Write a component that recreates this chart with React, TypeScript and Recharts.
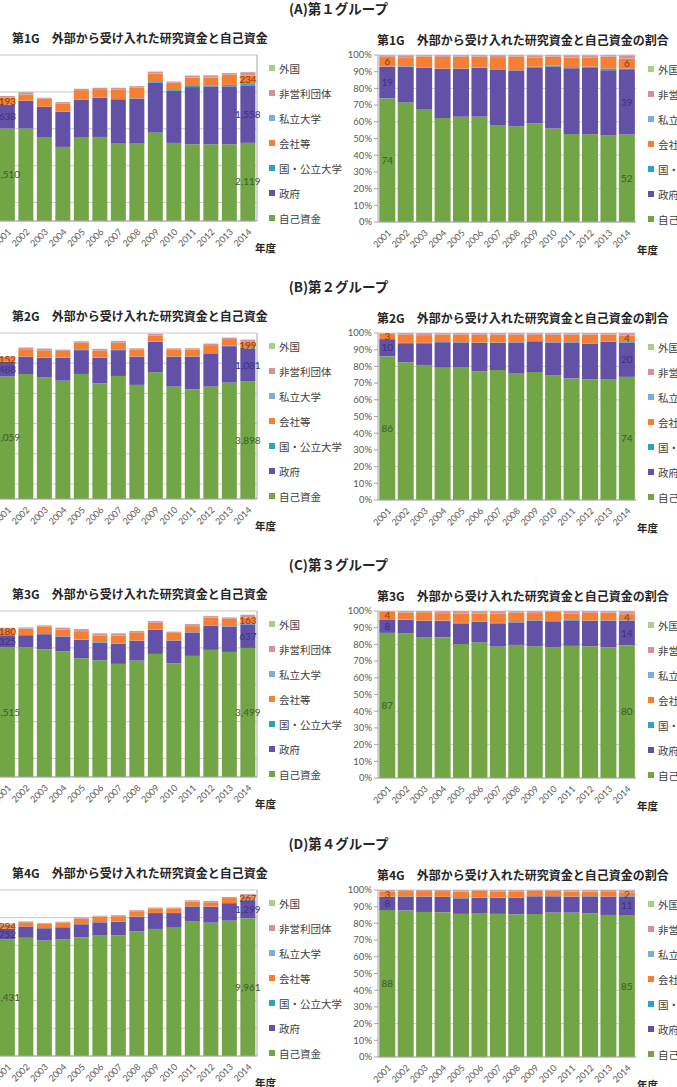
import React from 'react';
import { BarChart, Bar, XAxis, YAxis, CartesianGrid, LabelList } from 'recharts';

const years = ['2001', '2002', '2003', '2004', '2005', '2006', '2007', '2008', '2009', '2010', '2011', '2012', '2013', '2014'];

// stacking order, bottom to top
const seriesKeys = ['self', 'gov', 'pubUniv', 'company', 'privUniv', 'nonprofit', 'foreign'];
const seriesNames = ['自己資金', '政府', '国・公立大学', '会社等', '私立大学', '非営利団体', '外国'];
const seriesColors = ['#72a545', '#6251a6', '#2ba3c2', '#f47f35', '#7aaee0', '#d99096', '#a6d08a'];
const labelColors: Record<string, string> = { self: '#3f5a2a', gov: '#3a3280', company: '#8a3c08' };

// 第1G
const g1Self = [2510, 2505, 2261, 2009, 2261, 2279, 2099, 2099, 2397, 2117, 2081, 2081, 2081, 2119];
const g1Gov = [638, 747, 829, 946, 1028, 1055, 1199, 1217, 1351, 1406, 1550, 1568, 1568, 1558];
const g1PubUniv = [8, 8, 6, 6, 6, 6, 8, 8, 20, 25, 28, 30, 40, 35];
const g1Company = [193, 172, 217, 226, 252, 234, 261, 297, 225, 198, 225, 207, 285, 234];
const g1PrivUniv = [4, 4, 3, 3, 3, 3, 3, 3, 5, 5, 5, 5, 6, 8];
const g1Nonprofit = [33, 55, 24, 33, 33, 33, 40, 31, 50, 30, 52, 58, 30, 80];
const g1Foreign = [5, 5, 3, 3, 3, 3, 3, 3, 6, 3, 5, 6, 4, 7];
const g1Ticks = [0, 500, 1000, 1500, 2000, 2500, 3000, 3500, 4000, 4500];

// 第2G
const g2Self = [4059, 4143, 4033, 3924, 4143, 3836, 4077, 3781, 4198, 3726, 3639, 3726, 3858, 3898];
const g2Gov = [488, 570, 647, 756, 789, 844, 855, 932, 1008, 987, 1074, 1097, 1205, 1081];
const g2PubUniv = [4, 10, 12, 8, 8, 10, 10, 10, 12, 10, 12, 12, 15, 20];
const g2Company = [152, 241, 230, 219, 241, 230, 241, 219, 197, 219, 219, 262, 220, 199];
const g2PrivUniv = [2, 4, 5, 4, 4, 4, 4, 4, 5, 4, 4, 4, 4, 6];
const g2Nonprofit = [13, 48, 55, 40, 40, 48, 48, 48, 55, 48, 46, 46, 42, 75];
const g2Foreign = [2, 4, 5, 3, 3, 4, 4, 4, 5, 4, 4, 4, 4, 6];
const g2Ticks = [0, 500, 1000, 1500, 2000, 2500, 3000, 3500, 4000, 4500, 5000, 5500];

// 第3G
const g3Self = [3515, 3518, 3464, 3410, 3220, 3166, 3067, 3157, 3337, 3085, 3283, 3446, 3392, 3499];
const g3Gov = [325, 325, 406, 396, 496, 478, 541, 532, 650, 613, 632, 658, 685, 637];
const g3PubUniv = [4, 8, 6, 10, 12, 12, 12, 8, 10, 5, 12, 10, 10, 16];
const g3Company = [180, 171, 207, 181, 226, 180, 216, 226, 180, 217, 162, 199, 198, 163];
const g3PrivUniv = [2, 4, 3, 5, 6, 6, 6, 4, 5, 2, 6, 5, 5, 8];
const g3Nonprofit = [17, 30, 24, 44, 50, 51, 51, 30, 44, 18, 50, 44, 36, 70];
const g3Foreign = [2, 3, 3, 4, 4, 4, 4, 3, 4, 2, 4, 4, 4, 6];
const g3Ticks = [0, 500, 1000, 1500, 2000, 2500, 3000, 3500, 4000, 4500];

// 第4G
const g4Self = [8431, 8542, 8351, 8423, 8590, 8709, 8733, 9019, 9186, 9282, 9735, 9639, 9783, 9961];
const g4Gov = [752, 811, 883, 882, 930, 954, 978, 1050, 1145, 1049, 1074, 1146, 1264, 1299];
const g4PubUniv = [15, 10, 10, 10, 15, 10, 12, 12, 10, 10, 15, 15, 12, 25];
const g4Company = [294, 310, 310, 334, 382, 406, 382, 382, 334, 334, 334, 310, 358, 267];
const g4PrivUniv = [8, 6, 6, 6, 10, 6, 8, 8, 6, 6, 10, 10, 8, 15];
const g4Nonprofit = [73, 50, 50, 50, 84, 50, 67, 67, 50, 50, 84, 84, 68, 135];
const g4Foreign = [8, 6, 6, 6, 10, 6, 8, 8, 6, 6, 10, 10, 8, 15];
const g4Ticks = [0, 2000, 4000, 6000, 8000, 10000, 12000];

const pctTicks = [0, 0.1, 0.2, 0.3, 0.4, 0.5, 0.6, 0.7, 0.8, 0.9, 1];

const groups = [
  { tag: '(A)第１グループ', name: '第1G', top: 0, ticks: g1Ticks, series: [g1Self, g1Gov, g1PubUniv, g1Company, g1PrivUniv, g1Nonprofit, g1Foreign] },
  { tag: '(B)第２グループ', name: '第2G', top: 278, ticks: g2Ticks, series: [g2Self, g2Gov, g2PubUniv, g2Company, g2PrivUniv, g2Nonprofit, g2Foreign] },
  { tag: '(C)第３グループ', name: '第3G', top: 556, ticks: g3Ticks, series: [g3Self, g3Gov, g3PubUniv, g3Company, g3PrivUniv, g3Nonprofit, g3Foreign] },
  { tag: '(D)第４グループ', name: '第4G', top: 835, ticks: g4Ticks, series: [g4Self, g4Gov, g4PubUniv, g4Company, g4PrivUniv, g4Nonprofit, g4Foreign] },
];

const jp = "'Noto Sans CJK JP', sans-serif";
const num = "Lato, 'Noto Sans CJK JP', sans-serif";
const tickStyle = { fontSize: 9, fill: '#595959', fontFamily: num };

// labels only on the first and last year, like the original
const makeLabel = (vals: number[], totals: number[] | null, color: string) => (props: any) => {
  const { index } = props;
  if (index !== 0 && index !== vals.length - 1) return null;
  const vb = props.viewBox || props;
  const { x, y, width, height } = vb;
  const text = totals
    ? String(Math.round((vals[index] / totals[index]) * 100))
    : vals[index].toLocaleString('en-US');
  return (
    <text x={x + width / 2} y={y + height / 2} dy={3.5} textAnchor="middle" fontSize={10} fill={color} fontFamily={num}>
      {text}
    </text>
  );
};

const LegendBlock = ({ left, top }: { left: number; top: number }) => (
  <div style={{ position: 'absolute', left, top }}>
    {seriesNames.map((n, i) => seriesNames.length - 1 - i).map((k, row) => (
      <div key={k} style={{ position: 'absolute', left: 0, top: row * 25, display: 'flex', alignItems: 'center', whiteSpace: 'nowrap', height: 14 }}>
        <div style={{ width: 6, height: 6, background: seriesColors[k], marginRight: 4 }} />
        <span style={{ fontSize: 10.5, color: '#404040', fontFamily: jp }}>{seriesNames[k]}</span>
      </div>
    ))}
  </div>
);

const GroupBlock = ({ g }: { g: typeof groups[number] }) => {
  const rows = years.map((y, i) => {
    const r: Record<string, any> = { year: y };
    seriesKeys.forEach((k, s) => { r[k] = g.series[s][i]; });
    return r;
  });
  const totals = years.map((_, i) => g.series.reduce((a, s) => a + s[i], 0));
  const max = g.ticks[g.ticks.length - 1];
  const T = g.top;

  const bars = (pct: boolean) =>
    seriesKeys.map((k, s) => (
      <Bar key={k} dataKey={k} stackId="a" fill={seriesColors[s]} isAnimationActive={false}>
        {labelColors[k] && (
          <LabelList content={makeLabel(g.series[s], pct ? totals : null, labelColors[k])} />
        )}
      </Bar>
    ));

  return (
    <>
      <div style={{ position: 'absolute', left: 0, width: 677, top: T - 2, textAlign: 'center', fontSize: 13.5, fontWeight: 700, color: '#262626', fontFamily: jp }}>
        {g.tag}
      </div>

      {/* 金額 */}
      <div style={{ position: 'absolute', left: -4, top: T + 29, fontSize: 12, fontWeight: 700, color: '#262626', fontFamily: jp }}>)</div>
      <div style={{ position: 'absolute', left: 12, top: T + 29, fontSize: 12, fontWeight: 700, color: '#262626', fontFamily: jp, whiteSpace: 'nowrap' }}>
        {g.name}　外部から受け入れた研究資金と自己資金
      </div>
      <div style={{ position: 'absolute', left: -2, top: T + 50 }}>
        <BarChart width={300} height={205} data={rows} margin={{ top: 5, right: 40, left: 0, bottom: 0 }} barCategoryGap="10%">
          <CartesianGrid vertical={false} stroke="#c9c9c9" />
          <XAxis dataKey="year" interval={0} angle={-45} textAnchor="end" height={34} tick={tickStyle} axisLine={{ stroke: '#a6a6a6' }} tickLine={false} tickMargin={1} />
          <YAxis hide domain={[0, max]} ticks={g.ticks} />
          <YAxis yAxisId="edge" orientation="right" width={1} domain={[0, max]} ticks={g.ticks} tick={false} tickLine={false} axisLine={{ stroke: '#a6a6a6' }} />
          {bars(false)}
        </BarChart>
      </div>
      <LegendBlock left={269} top={T + 61} />
      <div style={{ position: 'absolute', left: 255, top: T + 240, fontSize: 10.5, fontWeight: 700, color: '#262626', fontFamily: jp }}>年度</div>

      {/* 割合 */}
      <div style={{ position: 'absolute', left: 377, top: T + 31, fontSize: 12, fontWeight: 700, color: '#262626', fontFamily: jp, whiteSpace: 'nowrap' }}>
        {g.name}　外部から受け入れた研究資金と自己資金の割合
      </div>
      <div style={{ position: 'absolute', left: 328, top: T + 50 }}>
        <BarChart width={308} height={206} data={rows} stackOffset="expand" margin={{ top: 5, right: 0, left: 0, bottom: 0 }} barCategoryGap="7%">
          <CartesianGrid vertical={false} stroke="#d0d0d0" />
          <XAxis dataKey="year" interval={0} angle={-45} textAnchor="end" height={34} tick={tickStyle} axisLine={{ stroke: '#a6a6a6' }} tickLine={false} tickMargin={1} />
          <YAxis width={50} domain={[0, 1]} ticks={pctTicks} tickFormatter={(v: number) => `${Math.round(v * 100)}%`} tick={{ ...tickStyle, fontSize: 9.5 }} tickSize={4} tickMargin={2} axisLine={{ stroke: '#a6a6a6' }} tickLine={{ stroke: '#a6a6a6' }} />
          {bars(true)}
        </BarChart>
      </div>
      <LegendBlock left={648} top={T + 62} />
      <div style={{ position: 'absolute', left: 637, top: T + 242, fontSize: 10.5, fontWeight: 700, color: '#262626', fontFamily: jp }}>年度</div>
    </>
  );
};

export default function App() {
  return (
    <div style={{ position: 'fixed', left: 0, top: 0, width: 677, height: 1087, overflow: 'hidden', background: '#fff' }}>
      {groups.map((g) => (
        <GroupBlock key={g.name} g={g} />
      ))}
    </div>
  );
}
